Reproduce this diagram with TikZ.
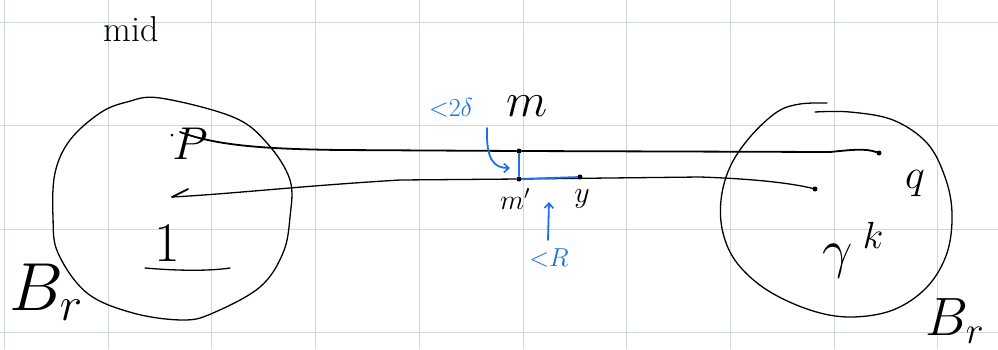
\documentclass[tikz,border=0pt]{standalone}
\usepackage{fix-cm}
\usetikzlibrary{arrows.meta}
\definecolor{gridc}{RGB}{204,218,214}
\definecolor{penblue}{RGB}{30,112,232}
\newcommand{\fs}[1]{\fontsize{#1}{#1}\selectfont}
\begin{document}
\begin{tikzpicture}[x=1pt,y=-1pt,
  ink/.style={line width=1.3pt,line cap=round,line join=round},
  thickink/.style={line width=1.8pt,line cap=round,line join=round},
  blueink/.style={line width=1.8pt,line cap=round,line join=round,draw=penblue},
  lbl/.style={inner sep=0pt},
  bluelbl/.style={inner sep=0pt,text=penblue},
  pt/.style={circle,fill=black,inner sep=0pt,minimum size=5pt},
  tip/.style={-{Straight Barb[length=5pt,width=9pt,line width=1.6pt]}}]
\fill[white] (0,0) rectangle (998,349);
\useasboundingbox (0,0) rectangle (998,349);
% grid
\foreach \i in {0,...,9} \draw[gridc,line width=1pt] ({4.5+103.7*\i},0) -- ++(0,349);
\foreach \j in {0,...,3} \draw[gridc,line width=1pt] (0,{22.5+103.4*\j}) -- ++(998,0);
% left ball
\draw[ink] plot[smooth cycle,tension=0.6] coordinates {(160,98) (233,117) (267,143) (290,180) (290,217) (283,253) (260,287) (213,313) (183,320) (133,313) (87,293) (58,253) (53,217) (55,173) (70,140) (100,113) (127,102)};
% right ball (open stroke with overlap)
\draw[ink] plot[smooth,tension=0.6] coordinates {(827,103) (800,104) (777,112) (750,137) (730,167) (721,200) (723,233) (737,263) (767,290) (810,310) (850,317) (893,310) (927,287) (947,253) (952,213) (945,177) (927,143) (893,120) (850,112) (815,112)};
% points
\node[pt,minimum size=3pt] (P) at (172,135) {};
\coordinate (Ps) at (180,132);
\node[pt] (m) at (519,151) {};
\node[pt] (mp) at (519,179) {};
\node[pt] (y) at (580,177) {};
\node[pt] (q) at (879,153) {};
\node[pt] (e) at (815,189) {};
\coordinate (ltip) at (172,197);
\coordinate (lbarb) at (188,189);
% geodesics
\draw[thickink] (Ps) .. controls (215,145) and (260,149) .. (340,150) -- (m) -- (830,152) .. controls (850,150) and (865,148) .. (q);
\draw[ink] (ltip) .. controls (230,194) and (300,186) .. (400,180) -- (mp) -- (700,177) .. controls (760,179) and (795,184) .. (e);
\draw[thickink] (ltip) -- (lbarb);
% blue segments
\draw[blueink] (m) -- (mp) -- (y);
% labels
\node[lbl] (mid) at (131,29) {\fs{36}mid};
\node[lbl] (Plbl) at (190,144) {\fs{46}$P$};
\node[lbl] (one) at (167,243) {\fs{56}1};
\draw[ink] (145,268) .. controls (180,271) and (210,271) .. (230,268);
\node[lbl] (Bl) at (46,292) {\fs{68}$B_r$};
\node[lbl] (Br) at (955,321) {\fs{54}$B_r$};
\node[lbl] (mlbl) at (527,106) {\fs{48}$m$};
\node[lbl] (mplbl) at (515,199) {\fs{28}$m'$};
\node[lbl] (ylbl) at (582,199) {\fs{30}$y$};
\node[lbl] (qlbl) at (915,184) {\fs{42}$q$};
\node[lbl] (glbl) at (853,250) {\fs{54}$\gamma^{\;k}$};
\node[bluelbl] (dl) at (451,108) {\fs{26}${<}2\delta$};
\node[bluelbl] (Rl) at (549,258) {\fs{26}${<}R$};
% blue arrows
\coordinate (da) at (487,128);
\coordinate (db) at (510,168);
\draw[blueink,tip] (da) .. controls (486,160) and (494,168) .. (db);
\coordinate (ra) at (548,240);
\coordinate (rb) at (549,202);
\draw[blueink,tip] (ra) -- (rb);
\end{tikzpicture}
\end{document}
